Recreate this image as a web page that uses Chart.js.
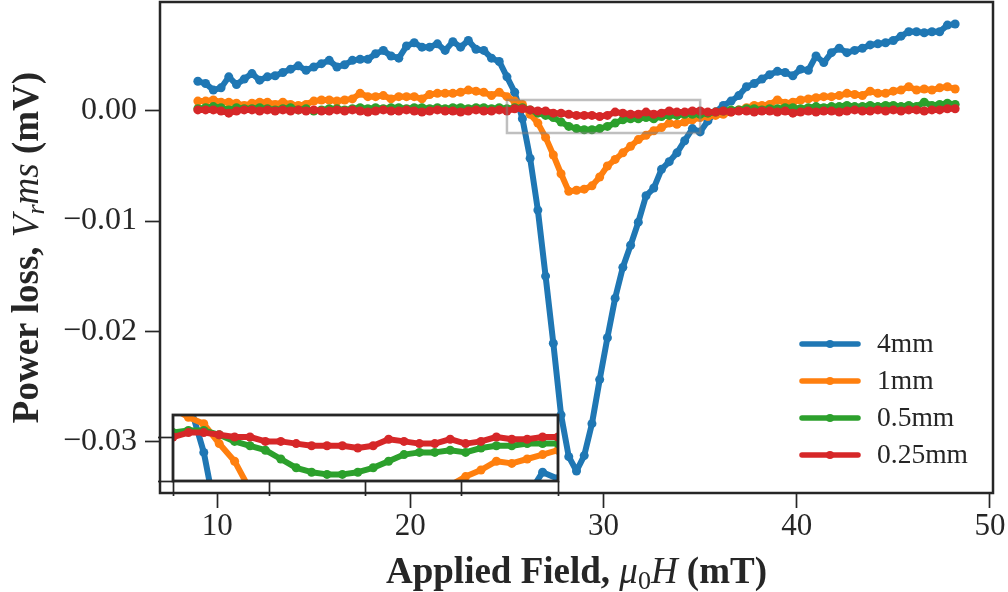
<!DOCTYPE html>
<html lang="en">
<head>
<meta charset="utf-8">
<title>Power loss vs applied field</title>
<script src="https://cdn.jsdelivr.net/npm/chart.js@4.4.1/dist/chart.umd.min.js"></script>
<style>
    html, body { margin: 0; padding: 0; background: #fff; }
    #wrap { position: relative; width: 1008px; height: 592px; }
    #main-chart { position: absolute; left: 0; top: 0; }
    #inset-chart { position: absolute; left: 150px; top: 405px; }
</style>
</head>
<body>
<div id="wrap">
    <canvas id="main-chart" width="1008" height="592"></canvas>
    <canvas id="inset-chart" width="420" height="100"></canvas>
</div>
<script>
// Applied field, mu0 H (mT)
const fieldValues = [
    9.0, 9.4, 9.8, 10.2, 10.6, 11.0, 11.4, 11.8, 12.2, 12.6,
    13.0, 13.4, 13.8, 14.2, 14.6, 15.0, 15.4, 15.8, 16.2, 16.6,
    17.0, 17.4, 17.8, 18.2, 18.6, 19.0, 19.4, 19.8, 20.2, 20.6,
    21.0, 21.4, 21.8, 22.2, 22.6, 23.0, 23.4, 23.8, 24.2, 24.6,
    25.0, 25.4, 25.8, 26.2, 26.6, 27.0, 27.4, 27.8, 28.2, 28.6,
    29.0, 29.4, 29.8, 30.2, 30.6, 31.0, 31.4, 31.8, 32.2, 32.6,
    33.0, 33.4, 33.8, 34.2, 34.6, 35.0, 35.4, 35.8, 36.2, 36.6,
    37.0, 37.4, 37.8, 38.2, 38.6, 39.0, 39.4, 39.8, 40.2, 40.6,
    41.0, 41.4, 41.8, 42.2, 42.6, 43.0, 43.4, 43.8, 44.2, 44.6,
    45.0, 45.4, 45.8, 46.2, 46.6, 47.0, 47.4, 47.8, 48.2
];

// Power loss Vrms (mV) per sample thickness
const loss4mm = [
    0.0027, 0.0025, 0.0019, 0.0021, 0.0031, 0.0024, 0.0029, 0.0034, 0.0028, 0.0031,
    0.0032, 0.0035, 0.0038, 0.0041, 0.0037, 0.0040, 0.0043, 0.0046, 0.0040, 0.0042,
    0.0046, 0.0047, 0.0047, 0.0052, 0.0055, 0.0050, 0.0048, 0.0059, 0.0062, 0.0058,
    0.0058, 0.0061, 0.0055, 0.0063, 0.0058, 0.0064, 0.0056, 0.0055, 0.0048, 0.0045,
    0.0031, 0.0017, -0.0007, -0.0043, -0.0090, -0.0150, -0.0211, -0.0276, -0.0314, -0.0327,
    -0.0313, -0.0284, -0.0244, -0.0206, -0.0170, -0.0142, -0.0122, -0.0101, -0.0077, -0.0070,
    -0.0053, -0.0046, -0.0038, -0.0027, -0.0016, -0.0019, -0.0009, -0.0001, 0.0005, 0.0009,
    0.0014, 0.0022, 0.0025, 0.0029, 0.0033, 0.0036, 0.0035, 0.0032, 0.0038, 0.0037,
    0.0050, 0.0044, 0.0053, 0.0057, 0.0053, 0.0055, 0.0057, 0.0060, 0.0061, 0.0062,
    0.0064, 0.0068, 0.0072, 0.0072, 0.0071, 0.0072, 0.0072, 0.0078, 0.0079
];
const loss1mm = [
    0.0009, 0.0009, 0.0010, 0.0008, 0.0008, 0.0007, 0.0005, 0.0007, 0.0008, 0.0008,
    0.0006, 0.0008, 0.0006, 0.0005, 0.0006, 0.0009, 0.0010, 0.0010, 0.0009, 0.0010,
    0.0011, 0.0016, 0.0013, 0.0013, 0.0014, 0.0011, 0.0013, 0.0013, 0.0013, 0.0011,
    0.0015, 0.0016, 0.0016, 0.0016, 0.0017, 0.0019, 0.0018, 0.0017, 0.0014, 0.0017,
    0.0013, 0.0009, 0.0006, -0.0003, -0.0011, -0.0024, -0.0040, -0.0057, -0.0073, -0.0072,
    -0.0071, -0.0068, -0.0060, -0.0050, -0.0044, -0.0038, -0.0032, -0.0026, -0.0022, -0.0018,
    -0.0015, -0.0011, -0.0012, -0.0010, -0.0008, -0.0006, -0.0005, -0.0004, -0.0003, -0.0001,
    0.0001, 0.0003, 0.0005, 0.0005, 0.0006, 0.0010, 0.0007, 0.0008, 0.0010, 0.0011,
    0.0012, 0.0013, 0.0013, 0.0014, 0.0016, 0.0015, 0.0014, 0.0018, 0.0016, 0.0016,
    0.0018, 0.0019, 0.0022, 0.0019, 0.0020, 0.0019, 0.0021, 0.0022, 0.0020
];
const loss05mm = [
    0.0002, 0.0003, 0.0004, 0.0003, 0.0001, 0.0003, 0.0002, 0.0002, 0.0003, 0.0002,
    0.0001, 0.0002, 0.0003, 0.0001, 0.0002, 0.0000, 0.0001, 0.0002, 0.0002, 0.0001,
    0.0002, 0.0003, 0.0002, 0.0003, 0.0002, 0.0003, 0.0003, 0.0002, 0.0003, 0.0003,
    0.0002, 0.0003, 0.0002, 0.0003, 0.0003, 0.0002, 0.0003, 0.0003, 0.0002, 0.0003,
    0.0002, 0.0003, 0.0003, 0.0001, -0.0002, -0.0004, -0.0006, -0.0010, -0.0014, -0.0016,
    -0.0017, -0.0017, -0.0016, -0.0014, -0.0011, -0.0008, -0.0007, -0.0007, -0.0006, -0.0007,
    -0.0005, -0.0004, -0.0004, -0.0003, -0.0003, -0.0003, -0.0002, -0.0001, 0.0000, 0.0001,
    0.0001, 0.0002, 0.0002, 0.0001, 0.0002, 0.0002, 0.0003, 0.0003, 0.0002, 0.0003,
    0.0004, 0.0003, 0.0004, 0.0004, 0.0005, 0.0004, 0.0004, 0.0005, 0.0004, 0.0005,
    0.0005, 0.0004, 0.0005, 0.0004, 0.0008, 0.0005, 0.0006, 0.0007, 0.0006
];
const loss025mm = [
    0.0001, 0.0001, 0.0001, 0.0000, -0.0002, 0.0000, 0.0001, 0.0001, 0.0000, 0.0001,
    0.0000, 0.0001, 0.0000, 0.0001, 0.0000, 0.0001, 0.0000, 0.0000, 0.0001, 0.0000,
    0.0001, 0.0000, -0.0001, 0.0000, 0.0001, 0.0000, 0.0000, 0.0001, 0.0000, -0.0001,
    0.0000, 0.0001, 0.0000, 0.0000, -0.0001, 0.0000, 0.0001, 0.0000, 0.0000, 0.0001,
    0.0000, 0.0002, 0.0002, 0.0001, 0.0000, 0.0000, -0.0002, -0.0002, -0.0003, -0.0004,
    -0.0004, -0.0004, -0.0005, -0.0004, -0.0001, -0.0002, -0.0003, -0.0003, -0.0001, -0.0003,
    -0.0002, 0.0000, -0.0001, -0.0001, 0.0000, 0.0000, -0.0001, -0.0001, 0.0000, -0.0001,
    0.0000, 0.0000, -0.0001, 0.0000, 0.0000, -0.0001, 0.0000, -0.0002, -0.0001, 0.0000,
    -0.0001, 0.0000, 0.0000, -0.0001, 0.0000, 0.0001, 0.0000, 0.0000, 0.0001, 0.0000,
    0.0001, 0.0000, 0.0001, 0.0001, 0.0000, 0.0001, 0.0001, 0.0002, 0.0002
];

const seriesLabels = ['4mm', '1mm', '0.5mm', '0.25mm'];

// Axis limits and ticks
const xRange = [7.04, 50.16];
const yRange = [-0.0347, 0.0099];
const xTickValues = [10, 20, 30, 40, 50];
const yTickValues = [-0.03, -0.02, -0.01, 0.00];

// Zoomed window shown in the inset
const insetXRange = [25, 35];
const insetYRange = [-0.002, 0.001];
const insetXTicks = [25, 27.5, 30, 32.5, 35];
const insetYTicks = [-0.002, 0];

const COLORS = ['#1f77b4', '#ff7f0e', '#2ca02c', '#d62728'];
const INK = '#262626';
const SERIF = '"Liberation Serif", "DejaVu Serif", serif';
const LINE_WIDTH = 6;
const DOT_RADIUS = 4.5;

document.addEventListener('DOMContentLoaded', function() {
    initMainChart();
    initInsetChart();
});

/**
 * Build one line dataset per thickness
 */
function buildDatasets(clip) {
    const series = [loss4mm, loss1mm, loss05mm, loss025mm];
    return series.map((values, i) => ({
        label: seriesLabels[i],
        data: values.map((v, j) => ({ x: fieldValues[j], y: v })),
        borderColor: COLORS[i],
        backgroundColor: COLORS[i],
        pointBackgroundColor: COLORS[i],
        pointBorderWidth: 0,
        pointRadius: DOT_RADIUS,
        borderWidth: LINE_WIDTH,
        borderJoinStyle: 'round',
        tension: 0,
        clip: clip,
        // later thicknesses sit on top
        order: series.length - 1 - i
    }));
}

function formatTick(value, decimals) {
    const s = Math.abs(value) < 1e-12 ? (0).toFixed(decimals) : value.toFixed(decimals);
    return s.replace('-', '\u2212');
}

/**
 * Fix a scale's thickness and drop the label overhang padding,
 * so the plot area keeps the size given by the layout padding
 */
function fixScaleSize(prop, size) {
    return function(scale) {
        scale[prop] = size;
        scale.paddingTop = 0;
        scale.paddingBottom = 0;
        scale.paddingLeft = 0;
        scale.paddingRight = 0;
    };
}

/**
 * Draw a line of text made of differently styled pieces, centred on (cx, cy)
 */
function drawRichText(ctx, parts, cx, cy, angle) {
    ctx.save();
    ctx.translate(cx, cy);
    ctx.rotate(angle);
    let total = 0;
    parts.forEach(p => {
        ctx.font = p.font;
        total += ctx.measureText(p.text).width;
    });
    let x = -total / 2;
    ctx.fillStyle = INK;
    ctx.textBaseline = 'alphabetic';
    ctx.textAlign = 'left';
    parts.forEach(p => {
        ctx.font = p.font;
        ctx.fillText(p.text, x, p.shift || 0);
        x += ctx.measureText(p.text).width;
    });
    ctx.restore();
}

const mainDecor = {
    id: 'mainDecor',
    afterDatasetsDraw(chart) {
        const ctx = chart.ctx;
        const area = chart.chartArea;
        const xs = chart.scales.x;
        const ys = chart.scales.y;

        // outline of the zoomed window
        const x1 = xs.getPixelForValue(insetXRange[0]);
        const x2 = xs.getPixelForValue(insetXRange[1]);
        const y1 = ys.getPixelForValue(insetYRange[1]);
        const y2 = ys.getPixelForValue(insetYRange[0]);
        ctx.save();
        ctx.strokeStyle = 'rgba(128, 128, 128, 0.5)';
        ctx.lineWidth = 2.5;
        ctx.strokeRect(x1, y1, x2 - x1, y2 - y1);

        // axes frame
        ctx.strokeStyle = INK;
        ctx.lineWidth = 2.5;
        ctx.strokeRect(area.left, area.top, area.right - area.left, area.bottom - area.top);
        ctx.restore();
    },
    afterDraw(chart) {
        const ctx = chart.ctx;
        const area = chart.chartArea;

        // legend, lower right
        const handleLeft = area.right - 191;
        const handleRight = area.right - 135;
        const textLeft = area.right - 116;
        const firstRow = area.top + 342;
        const rowGap = 37;
        ctx.save();
        chart.data.datasets.forEach((ds, i) => {
            const y = firstRow + i * rowGap;
            ctx.strokeStyle = ds.borderColor;
            ctx.lineWidth = LINE_WIDTH - 0.5;
            ctx.lineCap = 'round';
            ctx.beginPath();
            ctx.moveTo(handleLeft, y);
            ctx.lineTo(handleRight, y);
            ctx.stroke();
            ctx.fillStyle = ds.borderColor;
            ctx.beginPath();
            ctx.arc((handleLeft + handleRight) / 2, y, DOT_RADIUS - 0.5, 0, Math.PI * 2);
            ctx.fill();
            ctx.fillStyle = INK;
            ctx.font = '27.5px ' + SERIF;
            ctx.textBaseline = 'middle';
            ctx.fillText(ds.label, textLeft, y + 1);
        });
        ctx.restore();

        // axis titles
        const bold = 'bold 37px ' + SERIF;
        const ital = 'italic 37px ' + SERIF;
        const small = '26px ' + SERIF;
        const smallItal = 'italic 26px ' + SERIF;
        drawRichText(ctx, [
            { text: 'Applied Field, ', font: bold },
            { text: '\u03bc', font: ital },
            { text: '0', font: small, shift: 6 },
            { text: 'H', font: ital },
            { text: ' (mT)', font: bold }
        ], (area.left + area.right) / 2, 583, 0);
        drawRichText(ctx, [
            { text: 'Power loss, ', font: bold },
            { text: 'V', font: ital },
            { text: 'r', font: smallItal, shift: 6 },
            { text: 'ms', font: ital },
            { text: ' (mV)', font: bold }
        ], 38, (area.top + area.bottom) / 2, -Math.PI / 2);
    }
};

/**
 * Main chart: full field sweep
 */
function initMainChart() {
    const ctx = document.getElementById('main-chart').getContext('2d');
    new Chart(ctx, {
        type: 'line',
        data: { datasets: buildDatasets(undefined) },
        options: {
            responsive: false,
            animation: false,
            events: [],
            layout: { autoPadding: false, padding: { top: 2, right: 15, bottom: 0, left: 0 } },
            plugins: {
                legend: { display: false },
                tooltip: { enabled: false }
            },
            scales: {
                x: {
                    type: 'linear',
                    min: xRange[0],
                    max: xRange[1],
                    afterBuildTicks: scale => { scale.ticks = xTickValues.map(v => ({ value: v })); },
                    afterFit: fixScaleSize('height', 99),
                    border: { display: false },
                    grid: { drawOnChartArea: false, tickLength: 15, tickWidth: 1.7, tickColor: INK },
                    ticks: {
                        color: INK,
                        font: { family: SERIF, size: 31 },
                        padding: 0,
                        maxRotation: 0,
                        callback: value => formatTick(value, 0)
                    }
                },
                y: {
                    type: 'linear',
                    min: yRange[0],
                    max: yRange[1],
                    afterBuildTicks: scale => { scale.ticks = yTickValues.map(v => ({ value: v })); },
                    afterFit: fixScaleSize('width', 160),
                    border: { display: false },
                    grid: { drawOnChartArea: false, tickLength: 15, tickWidth: 1.7, tickColor: INK },
                    ticks: {
                        color: INK,
                        font: { family: SERIF, size: 32 },
                        padding: 8,
                        callback: value => formatTick(value, 2)
                    }
                }
            }
        },
        plugins: [mainDecor]
    });
}

const insetDecor = {
    id: 'insetDecor',
    beforeDraw(chart) {
        const ctx = chart.ctx;
        const area = chart.chartArea;
        ctx.save();
        ctx.fillStyle = '#ffffff';
        ctx.fillRect(area.left, area.top, area.right - area.left, area.bottom - area.top);
        ctx.restore();
    },
    afterDatasetsDraw(chart) {
        const ctx = chart.ctx;
        const area = chart.chartArea;
        ctx.save();
        ctx.strokeStyle = INK;
        ctx.lineWidth = 2.8;
        ctx.strokeRect(area.left, area.top, area.right - area.left, area.bottom - area.top);
        ctx.restore();
    }
};

/**
 * Inset chart: close-up of the dip region
 */
function initInsetChart() {
    const ctx = document.getElementById('inset-chart').getContext('2d');
    new Chart(ctx, {
        type: 'line',
        data: { datasets: buildDatasets(0) },
        options: {
            responsive: false,
            animation: false,
            events: [],
            layout: { autoPadding: false, padding: { top: 10, right: 12, bottom: 0, left: 0 } },
            plugins: {
                legend: { display: false },
                tooltip: { enabled: false }
            },
            scales: {
                x: {
                    type: 'linear',
                    min: insetXRange[0],
                    max: insetXRange[1],
                    afterBuildTicks: scale => { scale.ticks = insetXTicks.map(v => ({ value: v })); },
                    afterFit: fixScaleSize('height', 24),
                    border: { display: false },
                    grid: { drawOnChartArea: false, tickLength: 15, tickWidth: 1.7, tickColor: INK },
                    ticks: { display: false }
                },
                y: {
                    type: 'linear',
                    min: insetYRange[0],
                    max: insetYRange[1],
                    afterBuildTicks: scale => { scale.ticks = insetYTicks.map(v => ({ value: v })); },
                    afterFit: fixScaleSize('width', 23),
                    border: { display: false },
                    grid: { drawOnChartArea: false, tickLength: 15, tickWidth: 1.7, tickColor: INK },
                    ticks: { display: false }
                }
            }
        },
        plugins: [insetDecor]
    });
}
</script>
</body>
</html>
